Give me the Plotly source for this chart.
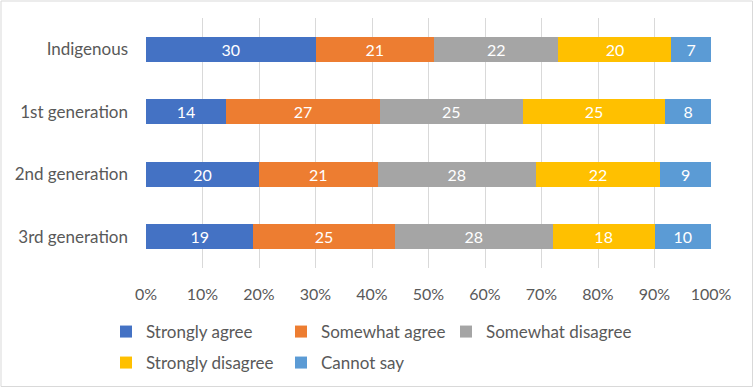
import plotly.graph_objects as go

groups = ["Indigenous", "1st generation", "2nd generation", "3rd generation"]
series = ["Strongly agree", "Somewhat agree", "Somewhat disagree", "Strongly disagree", "Cannot say"]
strongly_agree = [30, 14, 20, 19]
somewhat_agree = [21, 27, 21, 25]
somewhat_disagree = [22, 25, 28, 28]
strongly_disagree = [20, 25, 22, 18]
cannot_say = [7, 8, 9, 10]
x_ticks = [0, 10, 20, 30, 40, 50, 60, 70, 80, 90, 100]
x_ticklabels = [f"{v}%" for v in x_ticks]

values = [strongly_agree, somewhat_agree, somewhat_disagree, strongly_disagree, cannot_say]
colors = ["#4472C4", "#ED7D31", "#A5A5A5", "#FFC000", "#5B9BD5"]

FONT = "Lato"
GREY = "#595959"

W, H = 754, 388
ml, mr, mt, mb = 146, 43, 18, 120
pw, ph = W - ml - mr, H - mt - mb

def px_x(px):
    return (px - ml) / pw

def px_y(py):
    return (H - mb - py) / ph

# legend slot (symbol centre x, row centre y) in pixels for each series
legend_slots = [(126, 332), (301, 332), (466, 332), (126, 363), (301, 363)]
legend_ids = ["legend", "legend2", "legend3", "legend4", "legend5"]

fig = go.Figure()
for name, vals, col, lg in zip(series, values, colors, legend_ids):
    fig.add_trace(go.Bar(
        y=groups, x=vals, name=name, orientation="h",
        marker=dict(color=col, line=dict(width=0)),
        text=[str(v) for v in vals], texttemplate="%{text}",
        textposition="inside", insidetextanchor="middle",
        textfont=dict(color="white", size=16, family=FONT),
        legend=lg,
    ))

layout_legends = {}
for lg, (sx, sy) in zip(legend_ids, legend_slots):
    layout_legends[lg] = dict(
        orientation="h", x=px_x(sx - 20), xanchor="left", y=px_y(sy), yanchor="middle",
        font=dict(size=17, color=GREY), bgcolor="rgba(0,0,0,0)", itemwidth=30,
    )

fig.update_layout(
    width=W, height=H,
    barmode="stack", barnorm="percent", bargap=0.6,
    margin=dict(l=ml, r=mr, t=mt, b=mb, autoexpand=False),
    paper_bgcolor="white", plot_bgcolor="white",
    font=dict(family=FONT, size=16, color=GREY),
    xaxis=dict(range=[0, 100], tickvals=x_ticks, ticktext=x_ticklabels,
               showgrid=True, gridcolor="#D9D9D9", gridwidth=1,
               zeroline=False, showline=False, ticks="",
               ticklabelstandoff=15, tickfont=dict(size=16, color=GREY),
               automargin=False, fixedrange=True),
    yaxis=dict(categoryorder="array", categoryarray=groups, autorange="reversed",
               showgrid=False, zeroline=False, showline=False, ticks="",
               ticklabelstandoff=17, tickfont=dict(size=17, color=GREY),
               automargin=False),
    showlegend=True,
    **layout_legends,
)

fig.add_shape(type="rect", xref="paper", yref="paper",
              x0=px_x(1), x1=px_x(752.5), y0=px_y(386.5), y1=px_y(1),
              line=dict(color="#D9D9D9", width=1), fillcolor="rgba(0,0,0,0)", layer="below")

fig.write_html("out.html", config={"displayModeBar": False},
               post_script="document.body.style.margin='0';")
